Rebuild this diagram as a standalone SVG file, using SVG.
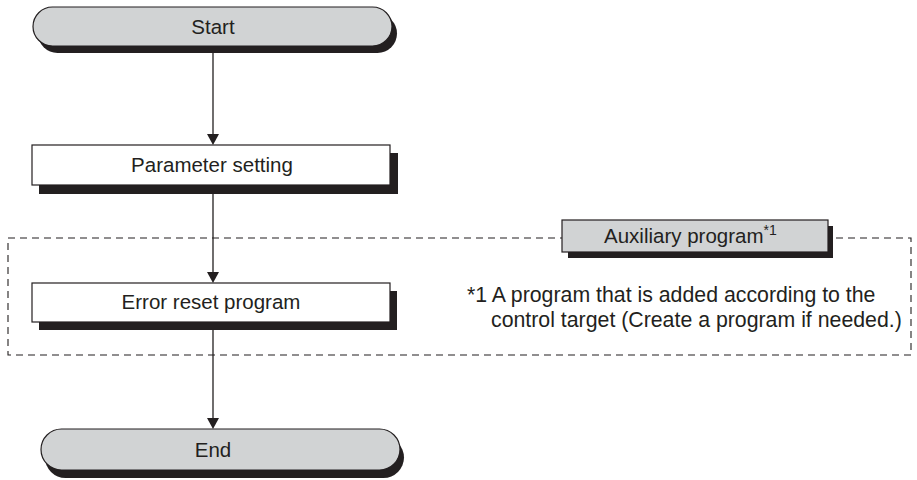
<svg xmlns="http://www.w3.org/2000/svg" width="917" height="480" viewBox="0 0 917 480">
<style>
.sh{fill:#231f20}
.term{fill:#d1d3d4;stroke:#231f20;stroke-width:1.2}
.proc{fill:#ffffff;stroke:#231f20;stroke-width:1.2}
.aux{fill:#d1d3d4;stroke:#231f20;stroke-width:1.2}
.t{font-family:"Liberation Sans",Arial,sans-serif;font-size:20.5px;fill:#231f20}
.n{font-size:21.3px}
.c{text-anchor:middle}
.ln{stroke:#231f20;stroke-width:1.3;fill:none}
.dash{stroke:#231f20;stroke-width:1.1;fill:none;stroke-dasharray:7 5}
</style>
<g id="boundary">
<rect class="dash" x="8" y="238" width="903" height="117"/>
</g>
<g id="connectors">
<line class="ln" x1="213" y1="52" x2="213" y2="134"/>
<path d="M207,134 L219,134 L213,145 Z" fill="#231f20"/>
<line class="ln" x1="213" y1="193" x2="213" y2="272"/>
<path d="M207,272 L219,272 L213,283 Z" fill="#231f20"/>
<line class="ln" x1="213" y1="329" x2="213" y2="418"/>
<path d="M207,418 L219,418 L213,429 Z" fill="#231f20"/>
</g>
<g id="start">
<rect class="sh" x="38" y="14" width="359" height="39" rx="19.5"/>
<rect class="term" x="33" y="7" width="359" height="39" rx="19.5"/>
<text class="t c" x="213" y="34">Start</text>
</g>
<g id="param">
<rect class="sh" x="39" y="153" width="359" height="41"/>
<rect class="proc" x="32" y="145" width="358" height="40"/>
<text class="t c" x="212" y="172">Parameter setting</text>
</g>
<g id="aux">
<rect class="sh" x="568" y="226" width="265" height="32"/>
<rect class="aux" x="562" y="220" width="266" height="32"/>
<text class="t" x="604" y="243">Auxiliary program<tspan font-size="14" dy="-8">*1</tspan></text>
</g>
<g id="error">
<rect class="sh" x="39" y="291" width="358" height="39"/>
<rect class="proc" x="32" y="283" width="358" height="39"/>
<text class="t c" x="211" y="309">Error reset program</text>
</g>
<g id="end">
<rect class="sh" x="45" y="437" width="359" height="41" rx="20.5"/>
<rect class="term" x="41" y="429" width="359" height="41" rx="20.5"/>
<text class="t c" x="213" y="457">End</text>
</g>
<g id="note">
<text class="t n" x="467" y="302">*1 A program that is added according to the</text>
<text class="t n" x="491" y="327">control target (Create a program if needed.)</text>
</g>
</svg>
